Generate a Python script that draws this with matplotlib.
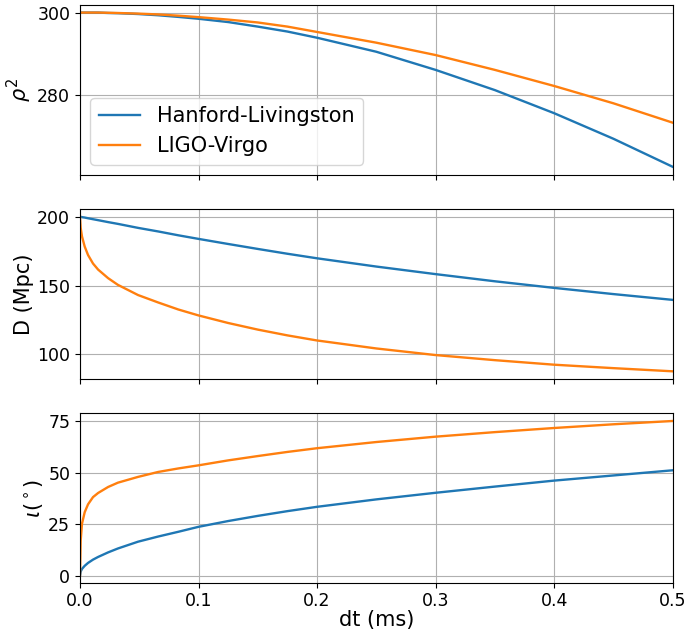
import matplotlib
matplotlib.use("Agg")
import matplotlib.pyplot as plt

# dt grid (ms) the curves were read at
dt = [0, 0.0006, 0.0017, 0.004, 0.0068, 0.011, 0.0153, 0.0237, 0.032, 0.049,
      0.066, 0.083, 0.1, 0.125, 0.15, 0.175, 0.2, 0.25, 0.3, 0.35, 0.4, 0.45, 0.5]

rho2_hl = [300.0, 300.0, 300.0, 300.0, 300.0, 300.0, 300.0, 299.9, 299.85, 299.65,
           299.35, 298.95, 298.5, 297.7, 296.6, 295.4, 293.9, 290.5, 286.1, 281.2,
           275.6, 269.4, 262.6]
rho2_lv = [300.0, 300.0, 300.0, 300.0, 300.0, 300.0, 300.0, 299.95, 299.9, 299.75,
           299.55, 299.25, 298.9, 298.3, 297.6, 296.6, 295.3, 292.7, 289.7, 286.1,
           282.2, 278.0, 273.3]

dist_hl = [200.0, 199.9, 199.7, 199.4, 198.9, 198.2, 197.5, 196.1, 194.8, 191.9,
           189.3, 186.5, 183.9, 180.2, 176.6, 173.1, 169.8, 163.8, 158.3, 153.1,
           148.3, 143.8, 139.6]
dist_lv = [200.0, 191.9, 185.7, 178.3, 172.2, 166.0, 161.6, 155.4, 150.5, 143.1,
           137.7, 132.6, 128.3, 122.8, 118.0, 113.8, 110.1, 104.3, 99.5, 95.8,
           92.5, 90.0, 87.7]

incl_hl = [0.0, 2.0, 3.3, 4.8, 6.2, 7.8, 9.1, 11.3, 13.2, 16.5,
           19.0, 21.3, 23.7, 26.5, 29.0, 31.3, 33.4, 37.0, 40.2, 43.2,
           46.1, 48.6, 51.1]
incl_lv = [0.0, 17.0, 25.2, 30.8, 34.6, 38.1, 40.1, 43.0, 45.1, 47.9,
           50.3, 52.0, 53.5, 55.9, 58.0, 60.0, 61.8, 64.8, 67.4, 69.6,
           71.6, 73.4, 75.0]

labels = ["Hanford-Livingston", "LIGO-Virgo"]

fig = plt.figure(figsize=(6.87, 6.33), dpi=100)
left, width = 0.1164, 0.8627
ax1 = fig.add_axes([left, 0.7235, width, 0.269])
ax2 = fig.add_axes([left, 0.4008, width, 0.269], sharex=ax1)
ax3 = fig.add_axes([left, 0.0794, width, 0.2676], sharex=ax1)

lw = 1.7
ax1.plot(dt, rho2_hl, lw=lw, label=labels[0])
ax1.plot(dt, rho2_lv, lw=lw, label=labels[1])
ax2.plot(dt, dist_hl, lw=lw)
ax2.plot(dt, dist_lv, lw=lw)
ax3.plot(dt, incl_hl, lw=lw)
ax3.plot(dt, incl_lv, lw=lw)

ax1.set_ylim(260.6, 301.9)
ax1.set_yticks([280, 300])
ax2.set_ylim(81.9, 205.6)
ax2.set_yticks([100, 150, 200])
ax3.set_ylim(-3.4, 78.7)
ax3.set_yticks([0, 25, 50, 75])
ax3.set_xlim(0, 0.5)
ax3.set_xticks([0.0, 0.1, 0.2, 0.3, 0.4, 0.5])

ax1.set_ylabel(r"$\rho^2$", fontsize=15, labelpad=2)
ax2.set_ylabel("D (Mpc)", fontsize=15, labelpad=2)
ax3.set_ylabel(r"$\iota(^\circ)$", fontsize=15, labelpad=2)
ax3.set_xlabel("dt (ms)", fontsize=15, labelpad=0)

for ax in (ax1, ax2, ax3):
    ax.grid(True)
    ax.tick_params(labelsize=12.5)
for ax in (ax1, ax2):
    ax.tick_params(labelbottom=False)

ax1.legend(loc="lower left", fontsize=15)

fig.savefig("out.png", dpi=100)
